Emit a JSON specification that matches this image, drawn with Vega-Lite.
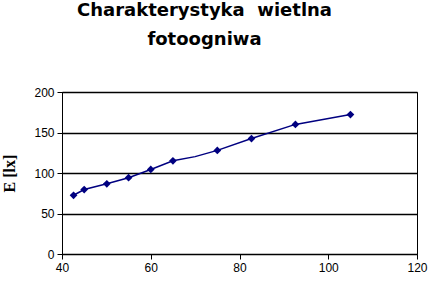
{
  "$schema": "https://vega.github.io/schema/vega-lite/v6.json",
  "width": 355,
  "height": 162,
  "autosize": "none",
  "padding": {"left": 62, "top": 92, "right": 13, "bottom": 33},
  "background": "white",
  "title": {
    "text": ["Charakterystyka \u00a0wietlna", "fotoogniwa"],
    "font": "DejaVu Sans",
    "fontSize": 18,
    "fontWeight": "bold",
    "color": "black",
    "lineHeight": 29,
    "anchor": "middle",
    "dx": -35,
    "offset": 37
  },
  "config": {
    "view": {"stroke": "black", "strokeWidth": 1},
    "axis": {
      "labelFont": "Liberation Sans",
      "labelFontSize": 12,
      "labelColor": "black",
      "labelFlush": false,
      "domainColor": "black",
      "tickColor": "black",
      "gridColor": "black",
      "gridOpacity": 1,
      "domainWidth": 1,
      "tickWidth": 1,
      "gridWidth": 1.3
    }
  },
  "data": {
    "values": [
      {"x": 42.6, "E": 72.5, "m": 1},
      {"x": 45.0, "E": 79.6, "m": 1},
      {"x": 50.1, "E": 86.7, "m": 1},
      {"x": 55.0, "E": 94.2, "m": 1},
      {"x": 60.0, "E": 104.4, "m": 1},
      {"x": 65.0, "E": 115.1, "m": 1},
      {"x": 70.0, "E": 120.2, "m": 0},
      {"x": 75.0, "E": 127.9, "m": 1},
      {"x": 82.7, "E": 142.5, "m": 1},
      {"x": 92.6, "E": 160.0, "m": 1},
      {"x": 105.0, "E": 172.1, "m": 1}
    ]
  },
  "encoding": {
    "x": {
      "field": "x",
      "type": "quantitative",
      "scale": {"domain": [40, 120], "nice": false, "zero": false},
      "axis": {"values": [40, 60, 80, 100, 120], "grid": false, "title": null, "tickSize": 5, "labelPadding": 3}
    },
    "y": {
      "field": "E",
      "type": "quantitative",
      "scale": {"domain": [0, 200], "nice": false},
      "axis": {
        "values": [0, 50, 100, 150, 200],
        "grid": true,
        "tickSize": 5,
        "labelPadding": 3,
        "title": "E [lx]",
        "titleFont": "Liberation Serif",
        "titleFontSize": 16,
        "titleFontWeight": "bold",
        "titleColor": "black",
        "titlePadding": 16
      }
    }
  },
  "layer": [
    {"mark": {"type": "line", "color": "#000080", "strokeWidth": 1.5}},
    {
      "transform": [{"filter": "datum.m == 1"}],
      "mark": {"type": "point", "shape": "diamond", "filled": true, "color": "#000080", "opacity": 1, "size": 60}
    }
  ]
}
